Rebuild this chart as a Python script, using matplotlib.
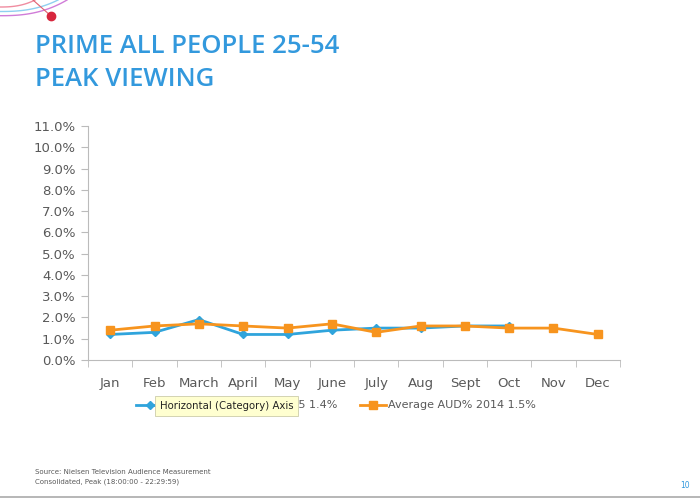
import matplotlib.pyplot as plt
import numpy as np

# valori (percentuali)
mesi = ["Jan", "Feb", "March", "April", "May", "June", "July", "Aug", "Sept", "Oct", "Nov", "Dec"]
aud_2015 = [1.2, 1.3, 1.9, 1.2, 1.2, 1.4, 1.5, 1.5, 1.6, 1.6]
aud_2014 = [1.4, 1.6, 1.7, 1.6, 1.5, 1.7, 1.3, 1.6, 1.6, 1.5, 1.5, 1.2]
label_2015 = "Average AUD% YTD 2015 1.4%"
label_2014 = "Average AUD% 2014 1.5%"
y_ticks = np.arange(0, 11.5, 1.0)

BLU = "#2FA4DC"
ARANCIO = "#F7941E"
GRIGIO = "#595959"

W, H = 700, 498
fig = plt.figure(figsize=(W / 100, H / 100), dpi=100)

# livello di sfondo in pixel per le decorazioni
bg = fig.add_axes([0, 0, 1, 1])
bg.set_xlim(0, W)
bg.set_ylim(H, 0)
bg.axis("off")
for y0, x1, col in [(7, 35, "#F08CA0"), (11.5, 58, "#8FD0F0"), (15.7, 67, "#D07CD8")]:
    xx = np.linspace(0, x1, 60)
    bg.plot(xx, y0 * (1 - (xx / x1) ** 2.5), color=col, lw=1.0)
bg.plot([33, 51], [0, 16], color="#E06070", lw=0.8)
bg.plot([51], [16], "o", color="#D7263D", ms=6)

bg.text(35, 46, "PRIME ALL PEOPLE 25-54", color="#3399DD", fontsize=18.5,
        family="Open Sans", fontweight="semibold", va="center", ha="left")
bg.text(35, 79, "PEAK VIEWING", color="#3399DD", fontsize=18.5,
        family="Open Sans", fontweight="semibold", va="center", ha="left")

bg.text(35, 472, "Source: Nielsen Television Audience Measurement", fontsize=5, color=GRIGIO, va="center")
bg.text(35, 482, "Consolidated, Peak (18:00:00 - 22:29:59)", fontsize=5, color=GRIGIO, va="center")
bg.text(690, 485, "10", fontsize=5.5, color="#3399DD", va="center", ha="right")
bg.plot([0, W], [497, 497], color="#AAAAAA", lw=1.2)

# grafico principale
ax = fig.add_axes([88 / W, (H - 360) / H, (620 - 88) / W, (360 - 126) / H])
x = np.arange(len(mesi))
ax.plot(x[:len(aud_2015)], aud_2015, color=BLU, lw=2, marker="D", ms=4, label=label_2015)
ax.plot(x, aud_2014, color=ARANCIO, lw=2, marker="s", ms=6, label=label_2014)

ax.set_xlim(-0.5, len(mesi) - 0.5)
ax.set_ylim(0, 11)
ax.set_yticks(y_ticks)
ax.set_yticklabels([f"{v:.1f}%" for v in y_ticks])
ax.set_xticks(x)
ax.set_xticklabels(mesi)
ax.set_xticks(np.arange(-0.5, len(mesi), 1.0), minor=True)
ax.tick_params(axis="x", which="major", length=0, pad=12, labelsize=9.5, colors=GRIGIO)
ax.tick_params(axis="x", which="minor", length=5, color="#BBBBBB", direction="out")
ax.tick_params(axis="y", length=5, color="#BBBBBB", labelsize=9.5, colors=GRIGIO, pad=4)
for s in ["top", "right"]:
    ax.spines[s].set_visible(False)
for s in ["left", "bottom"]:
    ax.spines[s].set_color("#BBBBBB")

leg = ax.legend(loc="upper center", bbox_to_anchor=(0.466, -0.13), ncol=2, frameon=False,
                fontsize=8.0, handlelength=2.4, handletextpad=0.1, columnspacing=2.0)
for t in leg.get_texts():
    t.set_color(GRIGIO)

# tooltip sovrapposto alla legenda
fig.text(160 / W, 1 - 406 / H, "Horizontal (Category) Axis", fontsize=7.3, color="#222222",
         va="center", ha="left", zorder=20,
         bbox=dict(boxstyle="square,pad=0.45", facecolor="#FFFFD0", edgecolor="#CCCCAA", lw=0.6))

plt.savefig("out.png", dpi=100)
